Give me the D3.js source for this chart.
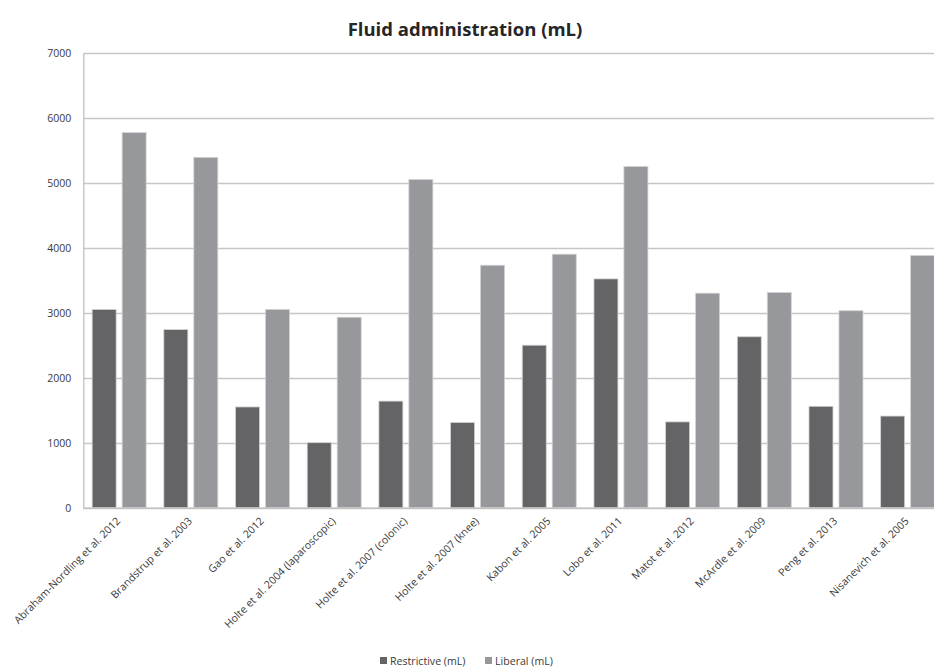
<!DOCTYPE html>
<html>
<head>
<meta charset="utf-8">
<script src="https://cdn.jsdelivr.net/npm/d3@7/dist/d3.min.js"></script>
<style>
  html, body { margin: 0; padding: 0; background: #ffffff; }
  svg { display: block; font-family: "Open Sans", "Noto Sans", sans-serif; }
</style>
</head>
<body>
<svg id="chart" width="934" height="667"></svg>
<script>
// Studies compared
const categories = [
  "Abraham-Nordling et al. 2012",
  "Brandstrup et al. 2003",
  "Gao et al. 2012",
  "Holte et al. 2004 (laparoscopic)",
  "Holte et al. 2007 (colonic)",
  "Holte et al. 2007 (knee)",
  "Kabon et al. 2005",
  "Lobo et al. 2011",
  "Matot et al. 2012",
  "McArdle et al. 2009",
  "Peng et al. 2013",
  "Nisanevich et al. 2005"
];

// Fluid volumes (mL) per regimen
const restrictive = [3050, 2740, 1550, 1000, 1640, 1310, 2500, 3520, 1320, 2630, 1560, 1410];
const liberal     = [5770, 5390, 3050, 2930, 5050, 3730, 3900, 5250, 3300, 3310, 3030, 3880];

const seriesNames = ["Restrictive (mL)", "Liberal (mL)"];
const seriesColors = ["#646466", "#97989c"];
const yTicks = [0, 1000, 2000, 3000, 4000, 5000, 6000, 7000];

const svg = d3.select("#chart");

// Plot area (the right edge runs slightly past the visible canvas)
const plotLeft = 83.3, plotRight = 943.5, plotTop = 52.7, plotBottom = 507.7;

const y = d3.scaleLinear().domain([0, 7000]).range([plotBottom, plotTop]);

const x0 = d3.scaleBand()
  .domain(categories)
  .range([plotLeft, plotRight])
  .paddingInner(0.247)
  .paddingOuter(0.1235);

const x1 = d3.scaleBand()
  .domain(seriesNames)
  .range([0, x0.bandwidth()])
  .paddingInner(0.2)
  .paddingOuter(0);

const color = d3.scaleOrdinal().domain(seriesNames).range(seriesColors);

// Title
svg.append("text")
  .attr("x", 465)
  .attr("y", 36)
  .attr("text-anchor", "middle")
  .attr("font-size", "18.5px")
  .attr("font-weight", "bold")
  .attr("fill", "#262626")
  .text("Fluid administration (mL)");

// Horizontal gridlines
svg.append("g")
  .selectAll("line")
  .data(yTicks)
  .join("line")
  .attr("x1", plotLeft)
  .attr("x2", plotRight)
  .attr("y1", d => Math.round(y(d)) + 0.5)
  .attr("y2", d => Math.round(y(d)) + 0.5)
  .attr("stroke", "#c6c6c6")
  .attr("stroke-width", 1.3);

// Y axis
const yAxis = svg.append("g")
  .attr("transform", `translate(${plotLeft},0)`)
  .call(d3.axisLeft(y).tickValues(yTicks).tickSize(0).tickPadding(12).tickFormat(d3.format("d")));
yAxis.select(".domain").attr("stroke", "#c0c0c0").attr("stroke-width", 1.3);
yAxis.selectAll("text")
  .attr("font-size", "10.5px")
  .attr("fill", "#3a3a3a")
  .attr("font-family", "\"Open Sans\", sans-serif");

// Bars
const rows = categories.map((c, i) => ({ cat: c, values: [restrictive[i], liberal[i]] }));

const groups = svg.append("g")
  .selectAll("g")
  .data(rows)
  .join("g")
  .attr("transform", d => `translate(${x0(d.cat)},0)`);

groups.selectAll("rect")
  .data(d => d.values.map((v, j) => ({ key: seriesNames[j], value: v })))
  .join("rect")
  .attr("x", d => x1(d.key))
  .attr("y", d => y(d.value))
  .attr("width", x1.bandwidth())
  .attr("height", d => y(0) - y(d.value))
  .attr("fill", d => color(d.key))
  .attr("stroke", "#d2d2d2")
  .attr("stroke-width", 0.8);

// X axis baseline and rotated category labels
const xAxis = svg.append("g")
  .attr("transform", `translate(0,${plotBottom})`)
  .call(d3.axisBottom(x0).tickSize(0).tickPadding(0));
xAxis.select(".domain").attr("stroke", "#c0c0c0").attr("stroke-width", 1.3);
xAxis.selectAll("text")
  .attr("font-size", "10.6px")
  .attr("fill", "#3a3a3a")
  .attr("font-family", "\"Open Sans\", sans-serif")
  .attr("text-anchor", "end")
  .attr("dy", "0")
  .attr("transform", "translate(2,14) rotate(-45)");

// Legend
const legendItems = [
  { name: seriesNames[0], x: 380 },
  { name: seriesNames[1], x: 485 }
];
const legend = svg.append("g");
legend.selectAll("rect")
  .data(legendItems)
  .join("rect")
  .attr("x", d => d.x)
  .attr("y", 657)
  .attr("width", 7)
  .attr("height", 7)
  .attr("fill", d => color(d.name));
legend.selectAll("text")
  .data(legendItems)
  .join("text")
  .attr("x", d => d.x + 10)
  .attr("y", 665)
  .attr("font-size", "10.6px")
  .attr("fill", "#3a3a3a")
  .text(d => d.name);
</script>
</body>
</html>
